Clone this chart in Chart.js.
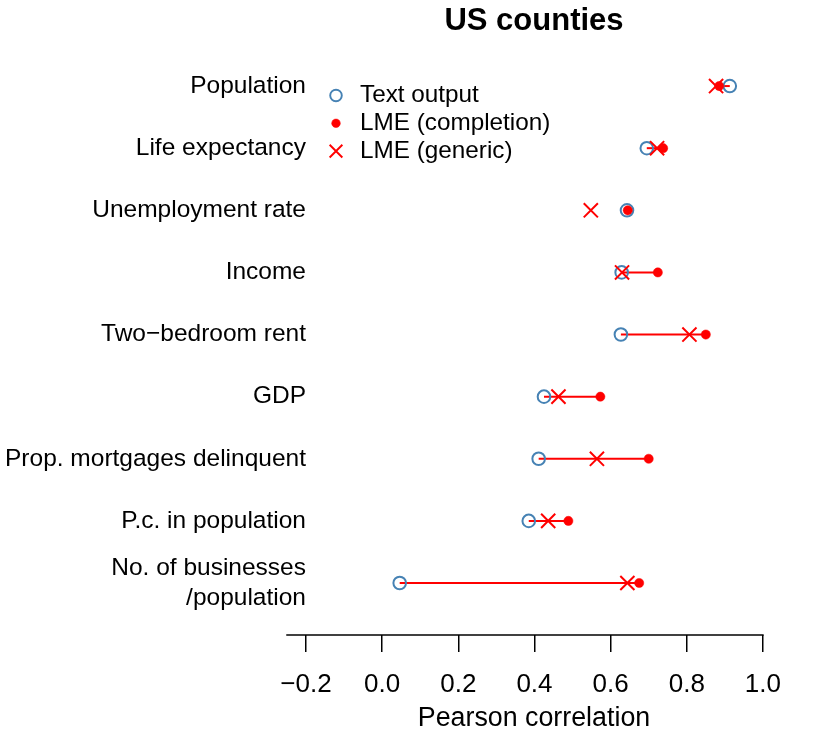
<!DOCTYPE html>
<html><head><meta charset="utf-8">
<script src="https://cdn.jsdelivr.net/npm/chart.js@4/dist/chart.umd.min.js"></script>
<style>html,body{margin:0;padding:0;background:#fff}#wrap{width:814px;height:733px}</style>
</head><body><div id="wrap"><canvas id="c" width="814" height="733"></canvas></div>
<script>
// ---- data ----
const categories = ['Population','Life expectancy','Unemployment rate','Income','Two\u2212bedroom rent','GDP','Prop. mortgages delinquent','P.c. in population',['No. of businesses','/population']];
const textOutput    = [0.913, 0.695, 0.643, 0.629, 0.627, 0.425, 0.411, 0.385, 0.046];
const lmeCompletion = [0.885, 0.738, 0.645, 0.724, 0.850, 0.573, 0.700, 0.489, 0.675];
const lmeGeneric    = [0.877, 0.722, 0.548, 0.630, 0.807, 0.463, 0.564, 0.436, 0.644];
const xTickValues = [-0.2, 0.0, 0.2, 0.4, 0.6, 0.8, 1.0];
const xTickLabels = ['\u22120.2','0.0','0.2','0.4','0.6','0.8','1.0'];
const seriesNames = ['Text output','LME (completion)','LME (generic)'];
const chartTitle = 'US counties';
const xAxisTitle = 'Pearson correlation';

// ---- chart ----
const FONT = '"Liberation Sans", Arial, Helvetica, sans-serif';
const BLUE = '#4682B4', RED = '#FF0000';
const rowIndex = categories.map((_, i) => i + 1);
const Y_FONT_SIZE = 24.5;
const X_MIN = -0.25, X_MAX = 1.0475, AXIS_LINE_FROM = -0.25, AXIS_LINE_TO = 1.0;

// measure widest category label line (same way Chart.js measures it)
const mctx = document.createElement('canvas').getContext('2d');
mctx.font = Y_FONT_SIZE + 'px ' + FONT;
let widestLabel = 0;
categories.forEach(c => [].concat(c).forEach(t => { widestLabel = Math.max(widestLabel, mctx.measureText(t).width); }));

const segDatasets = rowIndex.map((r, i) => ({
  type: 'line', label: 'seg' + i,
  data: [{x: textOutput[i], y: r}, {x: lmeCompletion[i], y: r}],
  borderColor: RED, borderWidth: 2, pointRadius: 0, fill: false, showLine: true, order: 3
}));

const datasets = [
  {label: seriesNames[0], data: rowIndex.map((r, i) => ({x: textOutput[i], y: r})),
   pointStyle: 'circle', pointRadius: 6.3, borderColor: BLUE, backgroundColor: 'rgba(0,0,0,0)',
   pointBorderWidth: 2, showLine: false, order: 2},
  {label: seriesNames[1], data: rowIndex.map((r, i) => ({x: lmeCompletion[i], y: r})),
   pointStyle: 'circle', pointRadius: 4.6, borderColor: RED, backgroundColor: RED,
   pointBorderWidth: 0.5, showLine: false, order: 1},
  {label: seriesNames[2], data: rowIndex.map((r, i) => ({x: lmeGeneric[i], y: r})),
   pointStyle: 'crossRot', pointRadius: 10, borderColor: RED, backgroundColor: RED,
   pointBorderWidth: 2, showLine: false, order: 0},
  ...segDatasets
];

function drawMarker(ctx, style, r, bw, stroke, fill, x, y) {
  ctx.save();
  ctx.strokeStyle = stroke; ctx.fillStyle = fill; ctx.lineWidth = bw;
  const H = Chart.helpers;
  if (H && H.drawPoint) {
    H.drawPoint(ctx, {pointStyle: style, radius: r, borderWidth: bw, rotation: 0}, x, y);
  } else {
    ctx.beginPath();
    if (style === 'crossRot') {
      const d = r * Math.SQRT1_2;
      ctx.moveTo(x - d, y - d); ctx.lineTo(x + d, y + d);
      ctx.moveTo(x - d, y + d); ctx.lineTo(x + d, y - d);
      ctx.stroke();
    } else {
      ctx.arc(x, y, r, 0, Math.PI * 2); ctx.fill(); if (bw > 0) ctx.stroke();
    }
  }
  ctx.restore();
}

const decor = {
  id: 'decor',
  afterDraw(chart) {
    const ctx = chart.ctx;
    const ca = chart.chartArea;
    const xs = chart.scales.x;
    ctx.save();
    // x axis line (from first to last tick region, like the base R axis)
    ctx.strokeStyle = '#000'; ctx.lineWidth = 1.5;
    ctx.beginPath();
    ctx.moveTo(xs.getPixelForValue(AXIS_LINE_FROM) - 0.75, ca.bottom);
    ctx.lineTo(xs.getPixelForValue(AXIS_LINE_TO) + 0.75, ca.bottom);
    ctx.stroke();
    // title
    ctx.fillStyle = '#000';
    ctx.textAlign = 'center'; ctx.textBaseline = 'middle';
    ctx.font = 'bold 31px ' + FONT;
    ctx.fillText(chartTitle, (ca.left + ca.right) / 2, 21);
    // legend
    const styles = [
      {s: 'circle', r: 5.8, bw: 1.9, stroke: BLUE, fill: 'rgba(0,0,0,0)'},
      {s: 'circle', r: 4.3, bw: 0.5, stroke: RED, fill: RED},
      {s: 'crossRot', r: 9, bw: 1.9, stroke: RED, fill: RED}
    ];
    ctx.font = '24.3px ' + FONT;
    ctx.textAlign = 'left';
    seriesNames.forEach((name, k) => {
      const y = 95.5 + k * 27.8;
      const st = styles[k];
      drawMarker(ctx, st.s, st.r, st.bw, st.stroke, st.fill, 336, y);
      ctx.fillStyle = '#000';
      ctx.fillText(name, 360, y);
    });
    ctx.restore();
  }
};

new Chart(document.getElementById('c'), {
  type: 'scatter',
  data: {datasets},
  options: {
    responsive: false, animation: false, events: [],
    layout: {padding: {top: 55, right: 33, bottom: 0, left: 0}},
    plugins: {legend: {display: false}, tooltip: {enabled: false}, title: {display: false}},
    scales: {
      x: {
        type: 'linear', min: X_MIN, max: X_MAX,
        afterBuildTicks: s => { s.ticks = xTickValues.map(v => ({value: v})); },
        afterFit: s => { s.height = 98; },
        ticks: {callback: (v, i) => xTickLabels[i], font: {family: FONT, size: 26}, color: '#000',
                padding: 17, autoSkip: false, maxRotation: 0},
        grid: {display: true, drawOnChartArea: false, drawTicks: true, tickLength: 17, color: '#000', lineWidth: 1.5},
        border: {display: false},
        title: {display: true, text: xAxisTitle, font: {family: FONT, size: 26.8}, color: '#000', padding: {top: 0, bottom: -2}}
      },
      y: {
        type: 'linear', reverse: true, min: 0.5, max: 9.837,
        afterBuildTicks: s => { s.ticks = rowIndex.map(v => ({value: v})); },
        afterFit: s => { s.width = 287; },
        ticks: {callback: (v, i) => categories[i], font: {family: FONT, size: Y_FONT_SIZE, lineHeight: 1.22},
                color: '#000', mirror: true, crossAlign: 'far', padding: 19 - widestLabel, autoSkip: false},
        grid: {display: false},
        border: {display: false}
      }
    }
  },
  plugins: [decor]
});
</script>
</body></html>
